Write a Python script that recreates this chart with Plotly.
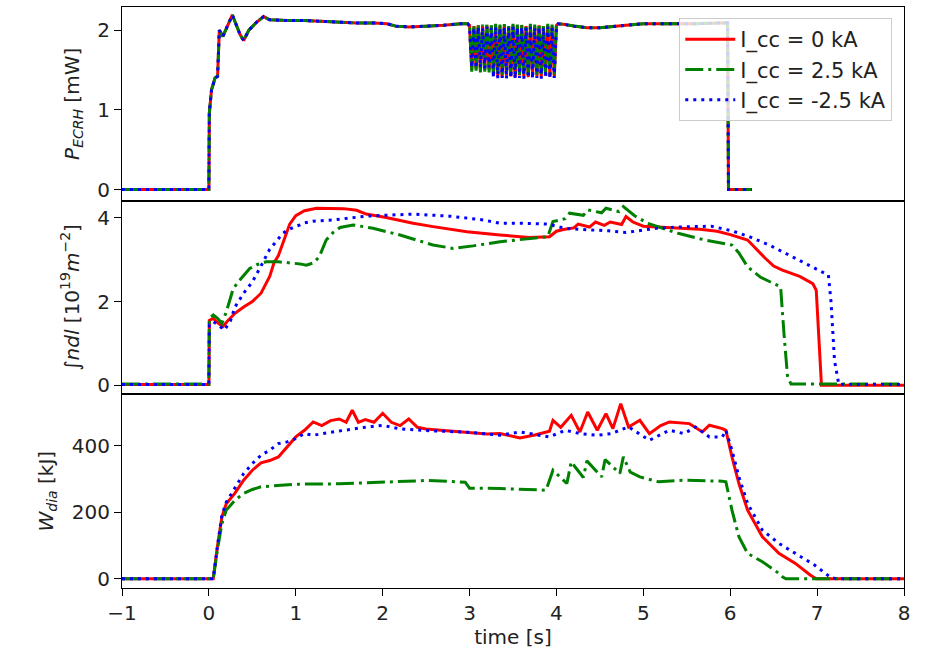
import plotly.graph_objects as go
from plotly.subplots import make_subplots

# ---------------- ECRH power (same programme for all three shots) ----------------
t_p_on = [-1.0, 0.0, 0.005, 0.03, 0.05, 0.07, 0.1, 0.11, 0.12, 0.16, 0.2, 0.24, 0.27,
          0.31, 0.36, 0.4, 0.46, 0.55, 0.63, 0.7, 0.9, 1.1, 1.3, 1.5, 1.7, 1.9, 2.05,
          2.15, 2.3, 2.5, 2.7, 2.9, 2.98]
p_on = [0.0, 0.0, 0.96, 1.25, 1.32, 1.4, 1.42, 1.9, 2.0, 1.92, 2.02, 2.13, 2.19,
        2.08, 1.94, 1.87, 2.0, 2.1, 2.17, 2.13, 2.12, 2.12, 2.11, 2.1, 2.09, 2.09, 2.08,
        2.05, 2.04, 2.05, 2.06, 2.08, 2.08]

# power modulation phase 3 s - 4 s
t_mod = [3.0, 3.025, 3.05, 3.075, 3.1, 3.125, 3.15, 3.175, 3.2, 3.225, 3.25, 3.275,
         3.3, 3.325, 3.35, 3.375, 3.4, 3.425, 3.45, 3.475, 3.5, 3.525, 3.55, 3.575,
         3.6, 3.625, 3.65, 3.675, 3.7, 3.725, 3.75, 3.775, 3.8, 3.825, 3.85, 3.875,
         3.9, 3.925, 3.95, 3.975, 4.0]
p_mod_0 = [2.06, 1.50, 2.05, 1.52, 2.06, 1.49, 2.05, 1.51, 2.06, 1.50, 2.05, 1.43,
           2.06, 1.42, 2.05, 1.41, 2.06, 1.43, 2.05, 1.42, 2.06, 1.41, 2.05, 1.43,
           2.06, 1.42, 2.05, 1.41, 2.06, 1.43, 2.05, 1.42, 2.06, 1.41, 2.05, 1.43,
           2.06, 1.42, 2.05, 1.42, 2.06]
p_mod_p = [2.08, 1.48, 2.07, 1.49, 2.08, 1.47, 2.07, 1.48, 2.08, 1.47, 2.07, 1.44,
           2.08, 1.45, 2.07, 1.44, 2.08, 1.45, 2.07, 1.44, 2.08, 1.45, 2.07, 1.44,
           2.08, 1.45, 2.07, 1.44, 2.08, 1.45, 2.07, 1.44, 2.08, 1.45, 2.07, 1.44,
           2.08, 1.45, 2.07, 1.44, 2.08]
p_mod_m = [2.04, 1.53, 2.03, 1.52, 2.04, 1.53, 2.03, 1.52, 2.04, 1.53, 2.03, 1.40,
           2.04, 1.39, 2.03, 1.40, 2.04, 1.39, 2.03, 1.40, 2.04, 1.39, 2.03, 1.40,
           2.04, 1.39, 2.03, 1.40, 2.04, 1.39, 2.03, 1.40, 2.04, 1.39, 2.03, 1.40,
           2.04, 1.39, 2.03, 1.40, 2.04]

t_p_off = [4.02, 4.1, 4.2, 4.35, 4.5, 4.8, 5.0, 5.3, 5.6, 5.9, 5.97, 5.98, 6.25]
p_off = [2.08, 2.07, 2.05, 2.03, 2.03, 2.06, 2.08, 2.08, 2.08, 2.09, 2.09, 0.0, 0.0]

# ---------------- line-integrated density [1e19 m^-2] ----------------
t_n_0 = [-1.0, 0.0, 0.005, 0.05, 0.1, 0.16, 0.22, 0.3, 0.4, 0.5, 0.6, 0.66, 0.7,
         0.75, 0.8, 0.87, 0.93, 1.0, 1.1, 1.24, 1.4, 1.55, 1.7, 1.81, 2.04, 2.35,
         2.58, 2.97, 3.35, 3.69, 3.92, 4.0, 4.08, 4.2, 4.25, 4.38, 4.45, 4.55, 4.62,
         4.75, 4.8, 4.88, 5.0, 5.2, 5.4, 5.65, 5.85, 6.0, 6.2, 6.3, 6.4, 6.5, 6.6,
         6.8, 6.95, 6.99, 7.02, 7.05, 8.0]
n_0 = [0.02, 0.02, 1.55, 1.6, 1.5, 1.4, 1.55, 1.72, 1.87, 2.0, 2.2, 2.45, 2.6,
       2.93, 3.1, 3.5, 3.85, 4.05, 4.17, 4.23, 4.22, 4.22, 4.18, 4.09, 4.01, 3.87,
       3.79, 3.67, 3.59, 3.53, 3.55, 3.68, 3.72, 3.76, 3.85, 3.78, 3.9, 3.82, 3.9,
       3.84, 4.03, 3.9, 3.8, 3.78, 3.76, 3.73, 3.68, 3.6, 3.47, 3.25, 3.04, 2.85, 2.75,
       2.6, 2.43, 2.27, 1.0, 0.0, 0.0]

t_n_p = [-1.0, 0.0, 0.005, 0.05, 0.1, 0.15, 0.2, 0.28, 0.35, 0.4, 0.47, 0.55, 0.66,
         0.8, 0.93, 1.05, 1.12, 1.2, 1.27, 1.35, 1.43, 1.51, 1.66, 1.89, 2.2, 2.58,
         2.81, 3.04, 3.35, 3.69, 3.9, 3.96, 4.1, 4.15, 4.31, 4.36, 4.52, 4.57, 4.72,
         4.77, 4.9, 5.05, 5.4, 5.71, 6.02, 6.1, 6.2, 6.35, 6.5, 6.58, 6.62, 6.66, 6.7,
         8.0]
n_p = [0.03, 0.03, 1.6, 1.68, 1.6, 1.48, 1.75, 2.31, 2.5, 2.62, 2.79, 2.88, 2.95,
       2.95, 2.93, 2.9, 2.87, 2.92, 3.07, 3.47, 3.65, 3.77, 3.83, 3.75, 3.59, 3.35,
       3.27, 3.33, 3.43, 3.51, 3.55, 3.91, 3.98, 4.11, 4.06, 4.19, 4.12, 4.23, 4.15,
       4.27, 4.05, 3.87, 3.63, 3.47, 3.35, 3.16, 2.83, 2.58, 2.44, 2.35, 1.2, 0.2, 0.03,
       0.03]

t_n_m = [-1.0, 0.0, 0.005, 0.05, 0.1, 0.18, 0.25, 0.3, 0.4, 0.5, 0.6, 0.66, 0.7, 0.8,
         0.85, 0.9, 1.0, 1.05, 1.1, 1.2, 1.43, 1.81, 2.35, 2.77, 3.16, 3.35, 3.6, 3.9,
         4.1, 4.4, 4.6, 4.8, 5.0, 5.15, 5.4, 5.78, 6.02, 6.22, 6.45, 6.68, 6.9, 7.13,
         7.16, 7.2, 7.25, 8.0]
n_m = [0.02, 0.02, 1.45, 1.52, 1.45, 1.32, 1.55, 1.87, 2.2, 2.47, 2.85, 3.1, 3.25,
       3.5, 3.63, 3.7, 3.8, 3.83, 3.88, 3.92, 3.95, 4.04, 4.09, 4.04, 3.95, 3.87, 3.87,
       3.85, 3.75, 3.71, 3.69, 3.65, 3.7, 3.75, 3.78, 3.8, 3.69, 3.55, 3.35, 3.11, 2.87,
       2.63, 2.0, 0.6, 0.02, 0.02]

# ---------------- diamagnetic energy [kJ] ----------------
t_w_0 = [-1.0, 0.05, 0.1, 0.15, 0.2, 0.3, 0.4, 0.5, 0.6, 0.7, 0.8, 0.9, 1.0, 1.1,
         1.2, 1.3, 1.4, 1.5, 1.58, 1.65, 1.72, 1.8, 1.9, 2.0, 2.1, 2.2, 2.3, 2.4, 2.5,
         2.7, 3.0, 3.2, 3.35, 3.58, 3.75, 3.92, 3.96, 4.05, 4.17, 4.27, 4.36, 4.47,
         4.57, 4.65, 4.74, 4.83, 4.96, 5.07, 5.2, 5.3, 5.53, 5.68, 5.76, 5.91, 5.95,
         6.02, 6.1, 6.2, 6.37, 6.56, 6.75, 6.92, 6.99, 8.0]
w_0 = [0, 0, 100, 186, 225, 257, 296, 326, 348, 355, 366, 396, 426, 446, 471, 460,
       475, 480, 470, 506, 470, 478, 470, 497, 470, 460, 480, 455, 450, 445, 440, 435,
       436, 423, 432, 443, 476, 455, 491, 441, 501, 446, 496, 451, 526, 456, 476, 436,
       460, 471, 466, 441, 461, 451, 446, 366, 286, 206, 126, 76, 46, 11, 0, 0]

t_w_p = [-1.0, 0.05, 0.1, 0.15, 0.2, 0.3, 0.4, 0.5, 0.6, 0.8, 1.0, 1.5, 2.0, 2.5,
         2.8, 2.95, 3.0, 3.35, 3.88, 3.92, 3.96, 4.12, 4.17, 4.31, 4.35, 4.52, 4.56,
         4.73, 4.77, 4.85, 4.96, 5.18, 5.45, 5.91, 5.95, 6.02, 6.1, 6.2, 6.37, 6.56,
         6.6, 6.64, 8.0]
w_p = [0, 0, 90, 166, 206, 236, 256, 268, 276, 281, 284, 285, 290, 295, 292, 290,
       272, 271, 266, 296, 326, 286, 351, 304, 354, 306, 358, 316, 366, 320, 306, 291,
       296, 293, 291, 206, 126, 76, 51, 16, 6, 0, 0]

t_w_m = [-1.0, 0.05, 0.1, 0.15, 0.2, 0.3, 0.4, 0.5, 0.6, 0.7, 0.8, 0.9, 1.0, 1.1,
         1.2, 1.4, 1.6, 1.8, 2.0, 2.2, 2.5, 2.8, 3.0, 3.35, 3.58, 3.92, 4.1, 4.27,
         4.47, 4.63, 4.83, 5.07, 5.3, 5.47, 5.6, 5.76, 5.91, 5.95, 6.02, 6.1, 6.2,
         6.37, 6.56, 6.75, 6.97, 7.16, 7.22, 8.0]
w_m = [0, 0, 100, 191, 230, 271, 316, 346, 371, 386, 406, 411, 421, 436, 431, 440,
       448, 455, 461, 450, 445, 442, 440, 431, 441, 426, 446, 436, 431, 436, 456, 416,
       446, 436, 456, 426, 426, 446, 386, 306, 226, 146, 106, 76, 41, 3, 0, 0]

labels = ["I_cc = 0 kA", "I_cc = 2.5 kA", "I_cc = -2.5 kA"]
colors = ["#ff0000", "#008000", "#0000ff"]
dashes = ["solid", "18px,5px,3px,5px", "3px,5px"]

t_p = t_p_on + t_mod + t_p_off
p_series = [p_on + p_mod_0 + p_off, p_on + p_mod_p + p_off, p_on + p_mod_m + p_off]
n_series = [(t_n_0, n_0), (t_n_p, n_p), (t_n_m, n_m)]
w_series = [(t_w_0, w_0), (t_w_p, w_p), (t_w_m, w_m)]

FONT = "DejaVu Sans"
FS = 20
LW = 3

fig = make_subplots(rows=3, cols=1, shared_xaxes=True, vertical_spacing=0)

for i in range(3):
    line = dict(color=colors[i], width=LW, dash=dashes[i])
    fig.add_trace(go.Scatter(x=t_p, y=p_series[i], mode="lines", line=line,
                             name=labels[i], legendgroup=labels[i], showlegend=True),
                  row=1, col=1)
    fig.add_trace(go.Scatter(x=n_series[i][0], y=n_series[i][1], mode="lines", line=line,
                             name=labels[i], legendgroup=labels[i], showlegend=False),
                  row=2, col=1)
    fig.add_trace(go.Scatter(x=w_series[i][0], y=w_series[i][1], mode="lines", line=line,
                             name=labels[i], legendgroup=labels[i], showlegend=False),
                  row=3, col=1)

axis_common = dict(showline=True, mirror=True, linecolor="black", linewidth=1.2,
                   showgrid=False, zeroline=False,
                   tickfont=dict(family=FONT, size=FS, color="#222"))

for r in (1, 2, 3):
    fig.update_xaxes(range=[-1, 8], row=r, col=1, **axis_common)
fig.update_xaxes(ticks="", showticklabels=False, row=1, col=1)
fig.update_xaxes(ticks="", showticklabels=False, row=2, col=1)
fig.update_xaxes(ticks="outside", ticklen=7, tickwidth=1.2, tickcolor="black",
                 tickvals=[-1, 0, 1, 2, 3, 4, 5, 6, 7, 8], showticklabels=True,
                 title=dict(text="time [s]", font=dict(family=FONT, size=FS, color="#222"),
                            standoff=5),
                 row=3, col=1)

ytick = dict(ticks="outside", ticklen=7, tickwidth=1.2, tickcolor="black")
fig.update_yaxes(range=[-0.14, 2.29], tickvals=[0, 1, 2], row=1, col=1,
                 title=dict(text="<i>P</i><sub><i>ECRH</i></sub> [mW]",
                            font=dict(family=FONT, size=FS, color="#222"), standoff=12),
                 **ytick, **axis_common)
fig.update_yaxes(range=[-0.215, 4.41], tickvals=[0, 2, 4], row=2, col=1,
                 title=dict(text="∫<i>ndl</i> [10<sup>19</sup><i>m</i><sup>−2</sup>]",
                            font=dict(family=FONT, size=FS, color="#222"), standoff=12),
                 **ytick, **axis_common)
fig.update_yaxes(range=[-28, 554], tickvals=[0, 200, 400], row=3, col=1,
                 title=dict(text="<i>W</i><sub><i>dia</i></sub> [kJ]",
                            font=dict(family=FONT, size=FS, color="#222"), standoff=12),
                 **ytick, **axis_common)

fig.update_layout(
    width=925, height=656, autosize=False,
    margin=dict(l=122, r=21, t=7, b=68),
    paper_bgcolor="white", plot_bgcolor="white",
    font=dict(family=FONT, size=FS, color="#222"),
    legend=dict(x=0.985, y=0.981, xanchor="right", yanchor="top",
                bgcolor="rgba(255,255,255,0.8)", bordercolor="#cccccc", borderwidth=1,
                font=dict(family=FONT, size=21, color="#222"),
                itemwidth=50, tracegroupgap=4, traceorder="normal"),
)

fig.write_html("out.html")
